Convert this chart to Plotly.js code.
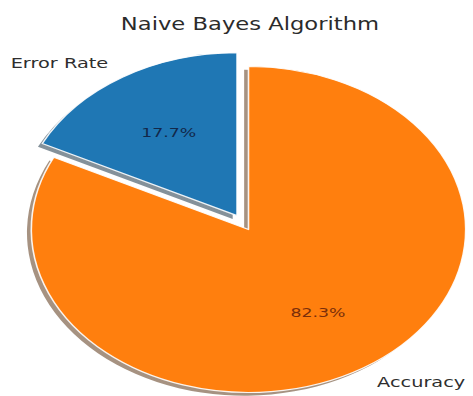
<!DOCTYPE html>
<html>
<head>
<meta charset="utf-8">
<script src="https://cdn.plot.ly/plotly-3.0.1.min.js"></script>
<style>
html,body{margin:0;padding:0;overflow:hidden;background:#fff;}
#plot{width:355px;height:396px;transform:scaleX(1.3324);transform-origin:0 0;}
</style>
</head>
<body>
<div id="plot"></div>
<script>
// ---- data ----
const labels = ["Error Rate", "Accuracy"];
const values = [17.7, 82.3];
const explode = [0.1, 0];
const colors = ["#1f77b4", "#ff7f0e"];
const shadowColors = ["rgba(9,36,54,0.5)", "rgba(77,38,4,0.5)"];
const pctColors = ["#12284a", "#7a2e0a"];
const chartTitle = "Naive Bayes Algorithm";

// ---- geometry (unscaled plot pixels; the div is stretched horizontally) ----
const W = 355, H = 396;
const cx = 186.5, cy = 229.5, R = 163;
const shadowOff = 0.02 * R;
const total = values.reduce((a, b) => a + b, 0);
const FONT = "DejaVu Sans, Liberation Sans, sans-serif";
const clear = "rgba(0,0,0,0)";

// slice mid-angles (counterclockwise from 12 o'clock, as math angle from +x)
let start = 90;
const mids = values.map(v => {
  const sweep = 360 * v / total;
  const m = start + sweep / 2;
  start += sweep;
  return m * Math.PI / 180;
});
// first slice runs counterclockwise from 12 o'clock: start it at -sweep and draw clockwise
const firstSweep = 360 * values[0] / total;

function domainFor(px, py) {
  return {
    x: [(px - R) / W, (px + R) / W],
    y: [(H - py - R) / H, (H - py + R) / H]
  };
}

const traces = [];
const annotations = [];
[true, false].forEach(isShadow => {
  values.forEach((v, i) => {
    const ex = explode[i] * R * Math.cos(mids[i]);
    const ey = -explode[i] * R * Math.sin(mids[i]);
    let px = cx + ex, py = cy + ey;
    if (isShadow) { px -= shadowOff; py += shadowOff; }
    const cols = values.map((_, j) => j === i ? (isShadow ? shadowColors[i] : colors[i]) : clear);
    traces.push({
      type: "pie",
      labels: labels,
      values: values,
      sort: false,
      direction: "clockwise",
      rotation: -firstSweep,
      textinfo: "none",
      hoverinfo: "skip",
      showlegend: false,
      marker: {
        colors: cols,
        line: { color: values.map((_, j) => (j === i && !isShadow) ? "rgba(255,255,255,0.9)" : clear), width: isShadow ? 0 : 1.2 }
      },
      domain: domainFor(px, py)
    });
    if (!isShadow) {
      const c = Math.cos(mids[i]), s = Math.sin(mids[i]);
      annotations.push({
        xref: "paper", yref: "paper",
        x: (px + 0.6 * R * c) / W, y: (H - (py - 0.6 * R * s)) / H,
        text: (100 * v / total).toFixed(1) + "%",
        showarrow: false, xanchor: "center", yanchor: "middle",
        font: { family: FONT, size: 13, color: pctColors[i] }
      });
      annotations.push({
        xref: "paper", yref: "paper",
        x: (px + 1.1 * R * c) / W, y: (H - (py - 1.1 * R * s)) / H,
        text: labels[i],
        showarrow: false, xanchor: c < 0 ? "right" : "left", yanchor: "middle",
        font: { family: FONT, size: 14.5, color: "#2e2e2e" }
      });
    }
  });
});

const layout = {
  width: W, height: H,
  margin: { l: 0, r: 0, t: 0, b: 0 },
  paper_bgcolor: "#fff",
  title: {
    text: chartTitle,
    x: 0.5285, xanchor: "center",
    y: 1 - 24 / H, yanchor: "middle",
    font: { family: FONT, size: 17, color: "#2b2b2b" }
  },
  annotations: annotations,
  showlegend: false
};

Plotly.newPlot("plot", traces, layout, { displayModeBar: false, staticPlot: true });
</script>
</body>
</html>
